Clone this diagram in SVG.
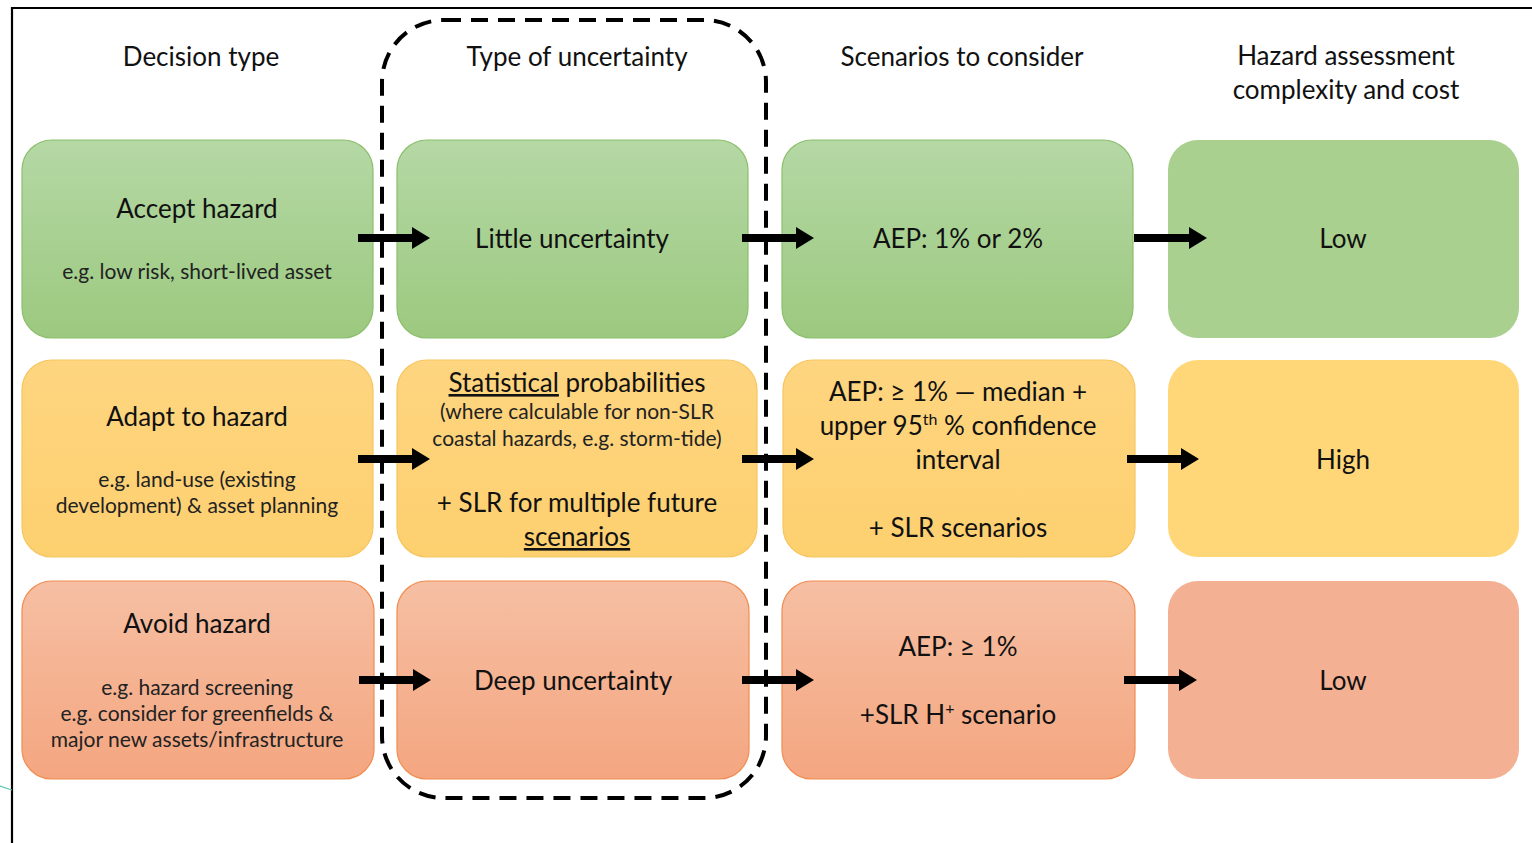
<svg xmlns="http://www.w3.org/2000/svg" width="1532" height="843" viewBox="0 0 1532 843">
  <defs>
    <linearGradient id="gGreen" x1="0" y1="0" x2="0" y2="1">
      <stop offset="0" stop-color="#b5d8a5"/>
      <stop offset="1" stop-color="#9cc97f"/>
    </linearGradient>
    <linearGradient id="gOrange" x1="0" y1="0" x2="0" y2="1">
      <stop offset="0" stop-color="#fed580"/>
      <stop offset="1" stop-color="#fdd06f"/>
    </linearGradient>
    <linearGradient id="gRed" x1="0" y1="0" x2="0" y2="1">
      <stop offset="0" stop-color="#f6bfa3"/>
      <stop offset="1" stop-color="#f4a680"/>
    </linearGradient>
    <style>
      text { font-family: Lato, "Open Sans", "Liberation Sans", sans-serif; fill: #111; text-anchor: middle; }
      .h { font-size: 26px; }
      .m { font-size: 26px; }
      .s { font-size: 21px; fill: #222; }
      .green { fill: url(#gGreen); stroke: #8cbf6c; stroke-width: 1.2; }
      .orange { fill: url(#gOrange); stroke: #f6c560; stroke-width: 1.2; }
      .red { fill: url(#gRed); stroke: #f08c50; stroke-width: 1.2; }
      .greenP { fill: #a9d08e; }
      .orangeP { fill: #ffd779; }
      .redP { fill: #f4b093; }
      .arrow { fill: #000; }
    </style>
  </defs>

  <rect width="1532" height="843" fill="#fff"/>
  <!-- page frame -->
  <path d="M12 843 V8 H1532" fill="none" stroke="#000" stroke-width="2.2"/>
  <path d="M0 786 Q6 788 12 790" fill="none" stroke="#5cc5b5" stroke-width="1.2"/>

  <!-- column headers -->
  <g id="headers">
    <text class="h" x="201" y="66">Decision type</text>
    <text class="h" x="577" y="66">Type of uncertainty</text>
    <text class="h" x="962" y="66">Scenarios to consider</text>
    <text class="h" x="1346" y="65">Hazard assessment</text>
    <text class="h" x="1346" y="99">complexity and cost</text>
  </g>

  <!-- row 1 -->
  <g id="accept-hazard">
    <rect class="green" x="22" y="140" width="351" height="198" rx="30"/>
    <text class="m" x="197" y="218">Accept hazard</text>
    <text class="s" x="197" y="279">e.g. low risk, short-lived asset</text>
  </g>
  <g id="little-uncertainty">
    <rect class="green" x="397" y="140" width="351" height="198" rx="30"/>
    <text class="m" x="572" y="248">Little uncertainty</text>
  </g>
  <g id="aep-1-2">
    <rect class="green" x="782" y="140" width="351" height="198" rx="30"/>
    <text class="m" x="958" y="248">AEP: 1% or 2%</text>
  </g>
  <g id="cost-low-1">
    <rect class="greenP" x="1168" y="140" width="351" height="198" rx="30"/>
    <text class="m" x="1343" y="248">Low</text>
  </g>

  <!-- row 2 -->
  <g id="adapt-hazard">
    <rect class="orange" x="22" y="360" width="351" height="197" rx="30"/>
    <text class="m" x="197" y="426">Adapt to hazard</text>
    <text class="s" x="197" y="487">e.g. land-use (existing</text>
    <text class="s" x="197" y="513">development) &amp; asset planning</text>
  </g>
  <g id="statistical">
    <rect class="orange" x="397" y="360" width="360" height="197" rx="30"/>
    <text class="m" x="577" y="392"><tspan text-decoration="underline">Statistical</tspan> probabilities</text>
    <text class="s" x="577" y="419">(where calculable for non-SLR</text>
    <text class="s" x="577" y="446">coastal hazards, e.g. storm-tide)</text>
    <text class="m" x="577" y="512">+ SLR for multiple future</text>
    <text class="m" x="577" y="546" text-decoration="underline">scenarios</text>
  </g>
  <g id="aep-median">
    <rect class="orange" x="783" y="360" width="352" height="197" rx="30"/>
    <text class="m" x="958" y="401">AEP: ≥ 1% — median +</text>
    <text class="m" x="958" y="435">upper 95<tspan font-size="16" dy="-10">th</tspan><tspan dy="10"> % confidence</tspan></text>
    <text class="m" x="958" y="469">interval</text>
    <text class="m" x="958" y="537">+ SLR scenarios</text>
  </g>
  <g id="cost-high">
    <rect class="orangeP" x="1168" y="360" width="351" height="197" rx="30"/>
    <text class="m" x="1343" y="469">High</text>
  </g>

  <!-- row 3 -->
  <g id="avoid-hazard">
    <rect class="red" x="22" y="581" width="352" height="198" rx="30"/>
    <text class="m" x="197" y="633">Avoid hazard</text>
    <text class="s" x="197" y="695">e.g. hazard screening</text>
    <text class="s" x="197" y="721">e.g. consider for greenfields &amp;</text>
    <text class="s" x="197" y="747">major new assets/infrastructure</text>
  </g>
  <g id="deep-uncertainty">
    <rect class="red" x="397" y="581" width="352" height="198" rx="30"/>
    <text class="m" x="573" y="690">Deep uncertainty</text>
  </g>
  <g id="aep-h-plus">
    <rect class="red" x="782" y="581" width="353" height="198" rx="30"/>
    <text class="m" x="958" y="656">AEP: ≥ 1%</text>
    <text class="m" x="958" y="724">+SLR H<tspan font-size="16" dy="-10">+</tspan><tspan dy="10"> scenario</tspan></text>
  </g>
  <g id="cost-low-3">
    <rect class="redP" x="1168" y="581" width="351" height="198" rx="30"/>
    <text class="m" x="1343" y="690">Low</text>
  </g>

  <!-- dashed outline around the uncertainty column -->
  <g id="uncertainty-frame">
    <rect x="382" y="20" width="384" height="778" rx="62" fill="none" stroke="#000" stroke-width="4" stroke-dasharray="17 10"/>
  </g>

  <!-- connectors -->
  <g id="connectors">
    <path class="arrow" d="M358 234 H412 V227 L430 238 L412 249 V242 H358 Z"/>
    <path class="arrow" d="M742 234 H796 V227 L814 238 L796 249 V242 H742 Z"/>
    <path class="arrow" d="M1134 234 H1189 V227 L1207 238 L1189 249 V242 H1134 Z"/>

    <path class="arrow" d="M358 455 H412 V448 L430 459 L412 470 V463 H358 Z"/>
    <path class="arrow" d="M742 455 H796 V448 L814 459 L796 470 V463 H742 Z"/>
    <path class="arrow" d="M1127 455 H1181 V448 L1199 459 L1181 470 V463 H1127 Z"/>

    <path class="arrow" d="M359 676 H413 V669 L431 680 L413 691 V684 H359 Z"/>
    <path class="arrow" d="M742 676 H796 V669 L814 680 L796 691 V684 H742 Z"/>
    <path class="arrow" d="M1124 676 H1179 V669 L1197 680 L1179 691 V684 H1124 Z"/>
  </g>
</svg>
